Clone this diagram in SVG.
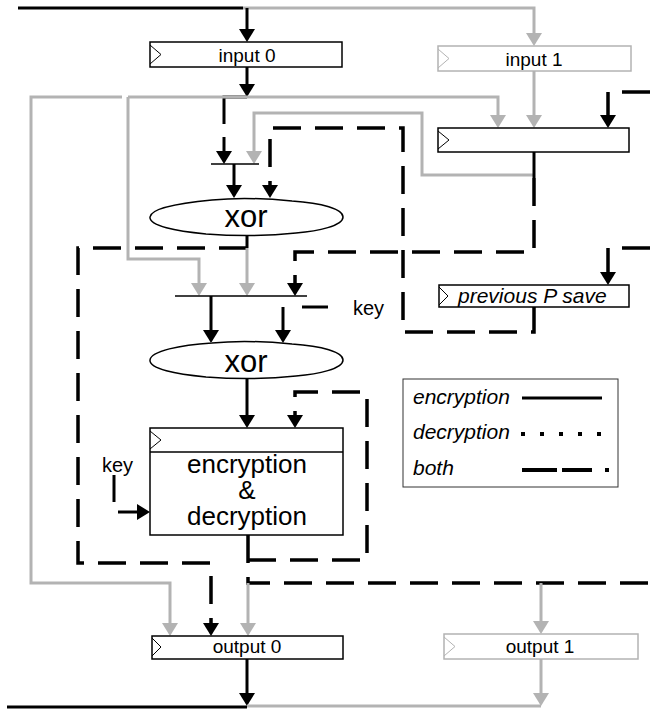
<svg xmlns="http://www.w3.org/2000/svg" width="650" height="710" viewBox="0 0 650 710">
  <defs>
    <style>
      .blk { fill: none; stroke: #000; stroke-width: 3; }
      .gry { fill: none; stroke: #b3b3b3; stroke-width: 3; }
      .dsh { fill: none; stroke: #000; stroke-width: 3.5; stroke-dasharray: 28 14; }
      .mux { fill: none; stroke: #000; stroke-width: 1.5; }
      .box { fill: #fff; stroke: #000; stroke-width: 1.5; }
      .gbox { fill: #fff; stroke: #b3b3b3; stroke-width: 1.5; }
      .tri { fill: none; stroke: #000; stroke-width: 1; }
      .gtri { fill: none; stroke: #b3b3b3; stroke-width: 1; }
      text { font-family: "Liberation Sans", Arial, sans-serif; fill: #000; }
      .lbl { font-size: 19px; text-anchor: middle; }
      .it { font-style: italic; font-size: 21px; }
      .big { font-size: 26px; text-anchor: middle; }
      .xor { font-size: 31px; text-anchor: middle; }
    </style>
    <marker id="ab" viewBox="0 0 13 16" refX="7" refY="8" markerWidth="13" markerHeight="16" markerUnits="userSpaceOnUse" orient="auto">
      <path d="M0,0 L13,8 L0,16 Z" fill="#000"/>
    </marker>
    <marker id="ag" viewBox="0 0 13 16" refX="7" refY="8" markerWidth="13" markerHeight="16" markerUnits="userSpaceOnUse" orient="auto">
      <path d="M0,0 L13,8 L0,16 Z" fill="#b3b3b3"/>
    </marker>
  </defs>

  <rect width="650" height="710" fill="#fff"/>

  <!-- connectors -->
  <g id="connectors">
    <!-- top bus -->
    <path class="blk" d="M18,8 H243"/>
    <path class="gry" d="M243,8 H534 V40" marker-end="url(#ag)"/>
    <path class="blk" d="M247,8 V36" marker-end="url(#ab)"/>
    <path class="blk" d="M247,67 V91" marker-end="url(#ab)"/>
    <!-- input 0 into first mux -->
    <path class="blk" d="M247,97 H224 V124"/>
    <path class="blk" d="M224,137 V158" marker-end="url(#ab)"/>
    <!-- gray feeds -->
    <path class="gry" d="M122,97 H31 V583 H170 V630" marker-end="url(#ag)"/>
    <path class="gry" d="M128,97 H498 V122" marker-end="url(#ag)"/>
    <path class="gry" d="M128,97 V259 H199 V290" marker-end="url(#ag)"/>
    <path class="gry" d="M534,175 H422 V113 H254 V158" marker-end="url(#ag)"/>
    <path class="gry" d="M534,71 V122" marker-end="url(#ag)"/>
    <!-- first mux to xor -->
    <path class="mux" d="M211,164 H259"/>
    <path class="blk" d="M234,164 V192" marker-end="url(#ab)"/>
    <!-- previous P save feedback -->
    <path class="dsh" d="M534,307 V332 H403 V128 H270 V192" marker-end="url(#ab)"/>
    <!-- register inputs / output -->
    <path class="dsh" d="M650,92 H608 V122" marker-end="url(#ab)"/>
    <path class="blk" d="M534,152 V178"/>
    <path class="dsh" d="M534,178 V252 H295 V290" marker-end="url(#ab)"/>
    <path class="dsh" d="M650,248 H608 V279" marker-end="url(#ab)"/>
    <!-- xor 1 output -->
    <path class="blk" d="M247,235 V248"/>
    <path class="dsh" d="M247,248 H78 V563 H211 V630" marker-end="url(#ab)"/>
    <path class="gry" d="M247,248 V290" marker-end="url(#ag)"/>
    <!-- second mux -->
    <path class="mux" d="M175,296 H307"/>
    <path class="blk" d="M211,296 V337" marker-end="url(#ab)"/>
    <path class="blk" d="M328,307 H302"/>
    <path class="blk" d="M283,307 V337" marker-end="url(#ab)"/>
    <!-- xor 2 output -->
    <path class="blk" d="M247,378 V422" marker-end="url(#ab)"/>
    <!-- cipher feedback loop -->
    <path class="dsh" d="M248,560 H367 V392 H295 V422" marker-end="url(#ab)"/>
    <!-- cipher block output -->
    <path class="dsh" d="M248,535 V583 H650"/>
    <path class="gry" d="M248,583 V630" marker-end="url(#ag)"/>
    <path class="gry" d="M541,583 V628" marker-end="url(#ag)"/>
    <!-- key into cipher block -->
    <path class="blk" d="M114,475 V502"/>
    <path class="blk" d="M118,512 H144" marker-end="url(#ab)"/>
    <!-- bottom bus -->
    <path class="blk" d="M247,659 V700" marker-end="url(#ab)"/>
    <path class="blk" d="M7,707 H247"/>
    <path class="gry" d="M247,706 H541"/>
    <path class="gry" d="M541,659 V700" marker-end="url(#ag)"/>
  </g>

  <!-- nodes -->
  <g id="input0">
    <rect class="box" x="150" y="42" width="192" height="25"/>
    <path class="tri" d="M150,45 L161,54.5 L150,64"/>
    <text class="lbl" x="247" y="62">input 0</text>
  </g>
  <g id="input1">
    <rect class="gbox" x="438" y="46" width="193" height="25"/>
    <path class="gtri" d="M438,49 L449,58.5 L438,68"/>
    <text class="lbl" x="534" y="66">input 1</text>
  </g>
  <g id="register">
    <rect class="box" x="438" y="128" width="191" height="24"/>
    <path class="tri" d="M438,131 L449,140 L438,149"/>
  </g>
  <g id="prevsave">
    <rect class="box" x="439" y="285" width="190" height="22"/>
    <path class="tri" d="M439,287 L448,296 L439,305"/>
    <text class="it" x="458" y="303">previous P save</text>
  </g>
  <g id="xor1">
    <path class="box" d="M150,217 C151,208 180,203 212,200 C232,198 262,198 292,201 C322,203 343,209 343,217 C343,226 318,231 296,233 C268,236 232,236 206,234 C176,231 149,226 150,217 Z"/>
    <text class="xor" x="246" y="227">xor</text>
  </g>
  <g id="xor2">
    <path class="box" d="M150,360 C151,351 180,345 212,343 C232,341 262,341 292,344 C322,346 343,352 343,360 C343,369 318,374 296,376 C268,379 232,379 206,377 C176,374 149,369 150,360 Z"/>
    <text class="xor" x="246" y="372">xor</text>
  </g>
  <g id="cipher">
    <rect class="box" x="150" y="428" width="193" height="107"/>
    <path class="mux" d="M150,452 H343"/>
    <path class="tri" d="M150,431 L161,440 L150,449"/>
    <text class="big"><tspan x="247" y="473">encryption</tspan><tspan x="247" y="499">&amp;</tspan><tspan x="247" y="525">decryption</tspan></text>
  </g>
  <g id="key1">
    <text x="353" y="315" font-size="20">key</text>
  </g>
  <g id="key2">
    <text x="102" y="472" font-size="20">key</text>
  </g>
  <g id="output0">
    <rect class="box" x="152" y="636" width="191" height="23"/>
    <path class="tri" d="M152,638 L161,647 L152,656"/>
    <text class="lbl" x="247" y="653">output 0</text>
  </g>
  <g id="output1">
    <rect class="gbox" x="444" y="634" width="194" height="25"/>
    <path class="gtri" d="M444,637 L455,646.5 L444,656"/>
    <text class="lbl" x="540" y="653">output 1</text>
  </g>
  <g id="legend">
    <rect x="403" y="379" width="215" height="108" fill="#fff" stroke="#333" stroke-width="1"/>
    <text class="it" x="413" y="404">encryption</text>
    <text class="it" x="413" y="439">decryption</text>
    <text class="it" x="413" y="475">both</text>
    <path class="blk" d="M522,398 H602" stroke-width="3.5"/>
    <path d="M521,434 H606" fill="none" stroke="#000" stroke-width="4" stroke-dasharray="4 15"/>
    <path d="M522,470 H557 M562,470 H592 M605,470 H609" fill="none" stroke="#000" stroke-width="4"/>
  </g>
</svg>
